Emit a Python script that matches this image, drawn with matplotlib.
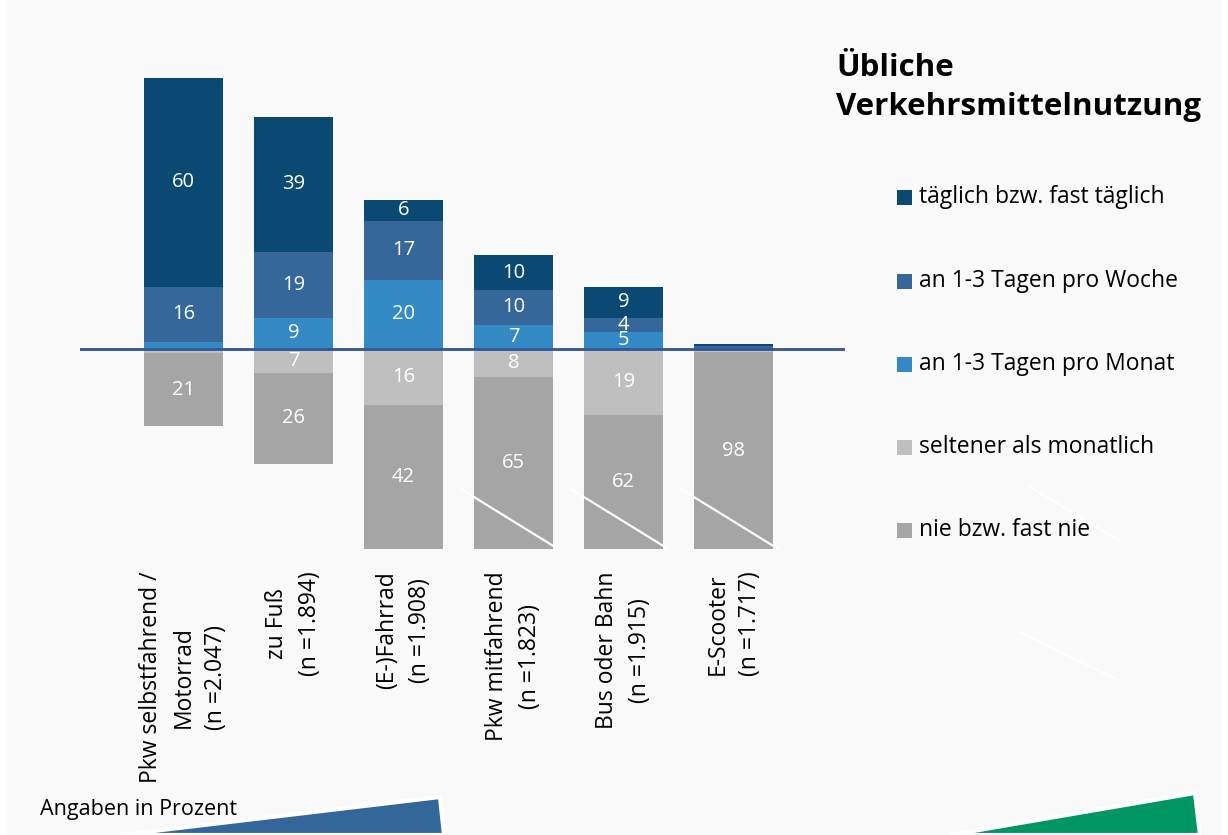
import matplotlib
matplotlib.use("Agg")
import matplotlib.pyplot as plt
from matplotlib.patches import Rectangle, Polygon
from matplotlib.lines import Line2D
import numpy as np

plt.rcParams['font.family'] = ['Open Sans', 'DejaVu Sans']

categories = ["Pkw selbstfahrend /\nMotorrad\n(n =2.047)",
              "zu Fuß\n(n =1.894)",
              "(E-)Fahrrad\n(n =1.908)",
              "Pkw mitfahrend\n(n =1.823)",
              "Bus oder Bahn\n(n =1.915)",
              "E-Scooter\n(n =1.717)"]
series_names = ["täglich bzw. fast täglich", "an 1-3 Tagen pro Woche",
                "an 1-3 Tagen pro Monat", "seltener als monatlich",
                "nie bzw. fast nie"]
taeglich = [60, 39, 6, 10, 9, 0.6]
woche = [16, 19, 17, 10, 4, 0.4]
monat = [2, 9, 20, 7, 5, 0.4]
seltener = [1.2, 7, 16, 8, 19, 1]
nie = [21, 26, 42, 65, 62, 98]

colors = ["#0a4a72", "#35679a", "#348ac4", "#bfbfbf", "#a5a5a5"]
bg = "#f9f9f9"

W, H = 1228, 835
fig = plt.figure(figsize=(W / 100, H / 100), dpi=100)
fig.patch.set_facecolor("white")
fig.patches.append(Rectangle((7 / W, 0), (W - 14) / W, 1, transform=fig.transFigure,
                             facecolor=bg, edgecolor="none", zorder=-10))

# axes placement in pixel coordinates
x0, x1 = 80, 845
ytop, ybot = 60, 549
ax = fig.add_axes([x0 / W, 1 - ybot / H, (x1 - x0) / W, (ybot - ytop) / H])
ax.set_facecolor("none")
pxu = 3.47
base = 349
ax.set_ylim(-(ybot - base) / pxu, (base - ytop) / pxu)
c0, step = 183.5, 110
ax.set_xlim((x0 - c0) / step, (x1 - c0) / step)
for s in ax.spines.values():
    s.set_visible(False)
ax.set_xticks([])
ax.set_yticks([])

x = np.arange(len(categories))
width = 0.71
ymin = ax.get_ylim()[0]

# positive stack: monat at bottom, then woche, then taeglich
bottom = np.zeros(len(x))
for vals, col in [(monat, colors[2]), (woche, colors[1]), (taeglich, colors[0])]:
    v = np.array(vals, dtype=float)
    ax.bar(x, v, width, bottom=bottom, color=col, edgecolor="none", zorder=2)
    for xi, b, vi in zip(x, bottom, v):
        if vi >= 4:
            ax.text(xi, b + vi / 2, f"{vi:g}", ha="center", va="center",
                    color="white", fontsize=14.5, zorder=4)
    bottom = bottom + v

bottom = np.zeros(len(x))
for vals, col in [(seltener, colors[3]), (nie, colors[4])]:
    v = np.array(vals, dtype=float)
    ax.bar(x, -v, width, bottom=-bottom, color=col, edgecolor="none", zorder=2)
    for xi, b, vi in zip(x, bottom, v):
        if vi >= 4:
            lo = max(-(b + vi), ymin)
            yc = (-b + lo) / 2
            ax.text(xi, yc, f"{vi:g}", ha="center", va="center",
                    color="white", fontsize=14.5, zorder=4)
    bottom = bottom + v

# baseline
ax.axhline(0, color="#2f5597", lw=2, zorder=3)

# axis-break marks on clipped bars
for xi, tot in zip(x, np.array(seltener) + np.array(nie)):
    if tot > -ymin + 3:
        ax.add_line(Line2D([xi - 0.47, xi + 0.4], [-40.5, -57.5],
                           color="white", lw=1.6, zorder=5))

# category labels
for xi, lab in zip(x, categories):
    ax.text(xi, ymin - 6.5, lab, rotation=90, ha="center", va="top",
            multialignment="center", fontsize=16.5, color="black",
            clip_on=False, linespacing=1.45)

# title
fig.text(836 / W, 1 - 53 / H, "Übliche\nVerkehrsmittelnutzung", ha="left", va="top",
         fontsize=22.5, fontweight="bold", linespacing=1.4)

# legend (manual)
ys = [197, 281, 364, 447, 530]
for yy, name, col in zip(ys, series_names, colors):
    fig.patches.append(Rectangle((897 / W, 1 - (yy + 8) / H), 15 / W, 15 / H,
                                 transform=fig.transFigure, facecolor=col,
                                 edgecolor="none"))
    fig.text(919 / W, 1 - yy / H, name, ha="left", va="center", fontsize=16.5)

# decorative lines (white) on right
for (xa, ya, xb, yb) in [(1030, 487, 1118, 540), (1020, 632, 1118, 680)]:
    fig.lines.append(Line2D([xa / W, xb / W], [1 - ya / H, 1 - yb / H],
                            transform=fig.transFigure, color="white", lw=1.5))

fig.text(40 / W, 1 - 810 / H, "Angaben in Prozent", ha="left", va="center",
         fontsize=15.5)

# decorative shapes at bottom
fig.patches.append(Polygon([(120 / W, 0), (440 / W, 1 - 797 / H), (444 / W, 0)],
                           closed=True, transform=fig.transFigure,
                           facecolor="#336699", edgecolor="white", lw=3))
fig.patches.append(Polygon([(950 / W, 0), (1195 / W, 1 - 793 / H), (1200 / W, 0)],
                           closed=True, transform=fig.transFigure,
                           facecolor="#009663", edgecolor="white", lw=3))

fig.savefig("out.png", dpi=100, facecolor=fig.get_facecolor())
